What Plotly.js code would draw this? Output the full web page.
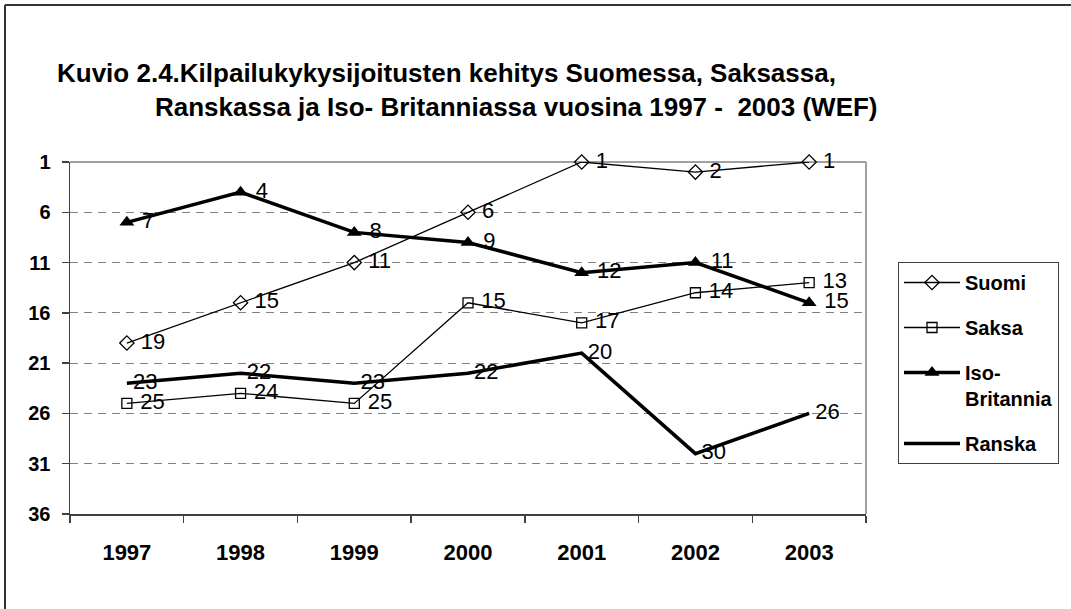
<!DOCTYPE html>
<html>
<head>
<meta charset="utf-8">
<script src="https://cdn.plot.ly/plotly-3.0.1.min.js"></script>
<style>
  html, body { margin: 0; padding: 0; background: #ffffff; }
  #chart { width: 1071px; height: 609px; }
</style>
</head>
<body>
<div id="chart"></div>
<script>
// ---- data ----
const years = ['1997', '1998', '1999', '2000', '2001', '2002', '2003'];
const suomi = [19, 15, 11, 6, 1, 2, 1];
const saksa = [25, 24, 25, 15, 17, 14, 13];
const isoBritannia = [7, 4, 8, 9, 12, 11, 15];
const ranska = [23, 22, 23, 22, 20, 30, 26];
const yTicks = [1, 6, 11, 16, 21, 26, 31, 36];
const titleLine1 = 'Kuvio 2.4.Kilpailukykysijoitusten kehitys Suomessa, Saksassa,';
const titleLine2 = 'Ranskassa ja Iso- Britanniassa vuosina 1997 -  2003 (WEF)';

const FONT = 'Liberation Sans, Arial, sans-serif';
const labelFont = { family: FONT, size: 22, color: '#000000' };

function series(name, values, marker, lineWidth, legendgroup) {
  return {
    type: 'scatter',
    x: years,
    y: values,
    name: name,
    legendgroup: legendgroup,
    mode: marker ? 'lines+markers+text' : 'lines+text',
    text: values.map(v => '\u00a0' + v),
    textposition: 'middle right',
    textfont: labelFont,
    line: { color: '#000000', width: lineWidth },
    marker: marker || { size: 10, opacity: 0 },
    cliponaxis: false,
    hoverinfo: 'x+y+name'
  };
}

const traces = [
  series('Suomi', suomi, { symbol: 'diamond-open', size: 11, color: '#000000', line: { width: 1.3, color: '#000000' } }, 1.3, 'g1'),
  series('Saksa', saksa, { symbol: 'square-open', size: 10, color: '#000000', line: { width: 1.3, color: '#000000' } }, 1.3, 'g2'),
  series('Iso-<br>Britannia', isoBritannia, { symbol: 'triangle-up', size: 13, color: '#000000', line: { width: 0 } }, 3.5, 'g3'),
  series('Ranska', ranska, null, 3.5, 'g4')
];

// plot area in pixels: x 70..866, y 162..514
const L = 70, R = 866, T = 162, B = 514;
const px = x => (x - L) / (R - L);
const py = y => (B - y) / (B - T);

const layout = {
  width: 1071,
  height: 609,
  margin: { l: L, r: 1071 - R, t: T, b: 609 - B, pad: 0 },
  paper_bgcolor: '#ffffff',
  plot_bgcolor: '#ffffff',
  font: { family: FONT, color: '#000000' },
  showlegend: true,
  legend: {
    x: px(898), y: py(262), xanchor: 'left', yanchor: 'top',
    bordercolor: '#404040', borderwidth: 1, bgcolor: '#ffffff',
    font: { family: FONT, size: 20, color: '#000000', weight: 'bold' },
    traceorder: 'grouped',
    tracegroupgap: 16,
    itemwidth: 56,
    valign: 'top'
  },
  xaxis: {
    type: 'category',
    range: [-0.5, 6.5],
    showgrid: false,
    zeroline: false,
    showline: true, linecolor: '#404040', linewidth: 1.5,
    ticks: 'outside', tickson: 'boundaries', ticklen: 7, tickcolor: '#404040', tickwidth: 1.5,
    tickfont: { family: FONT, size: 22, color: '#000000', weight: 'bold' },
    ticklabelstandoff: 18,
    fixedrange: true
  },
  yaxis: {
    range: [36, 1],
    tickvals: yTicks,
    ticktext: yTicks.map(String),
    showgrid: true, gridcolor: '#808080', gridwidth: 1, griddash: '8px,6px',
    zeroline: false,
    showline: true, linecolor: '#404040', linewidth: 1.5,
    ticks: 'outside', ticklen: 7, tickcolor: '#404040', tickwidth: 1.5,
    tickfont: { family: FONT, size: 20, color: '#000000', weight: 'bold' },
    ticklabelstandoff: 7,
    fixedrange: true
  },
  shapes: [
    // plot area frame (top & right)
    { type: 'line', xref: 'paper', yref: 'paper', x0: 0, x1: 1, y0: 1, y1: 1, line: { color: '#808080', width: 1.5 }, layer: 'below' },
    { type: 'line', xref: 'paper', yref: 'paper', x0: 1, x1: 1, y0: 0, y1: 1, line: { color: '#808080', width: 1.5 }, layer: 'below' },
    // chart outer border (left & top)
    { type: 'line', xref: 'paper', yref: 'paper', x0: px(5), x1: px(5), y0: py(5), y1: py(640), line: { color: '#333333', width: 2 } },
    { type: 'line', xref: 'paper', yref: 'paper', x0: px(5), x1: px(1100), y0: py(5), y1: py(5), line: { color: '#333333', width: 2 } }
  ],
  annotations: [
    { text: titleLine1, xref: 'paper', yref: 'paper', x: px(55), y: py(73), xanchor: 'left', yanchor: 'middle', showarrow: false,
      font: { family: FONT, size: 26, color: '#000000', weight: 'bold' } },
    { text: titleLine2, xref: 'paper', yref: 'paper', x: px(153), y: py(107), xanchor: 'left', yanchor: 'middle', showarrow: false,
      font: { family: FONT, size: 26, color: '#000000', weight: 'bold' } }
  ]
};

Plotly.newPlot('chart', traces, layout, { displayModeBar: false, staticPlot: true });
</script>
</body>
</html>
